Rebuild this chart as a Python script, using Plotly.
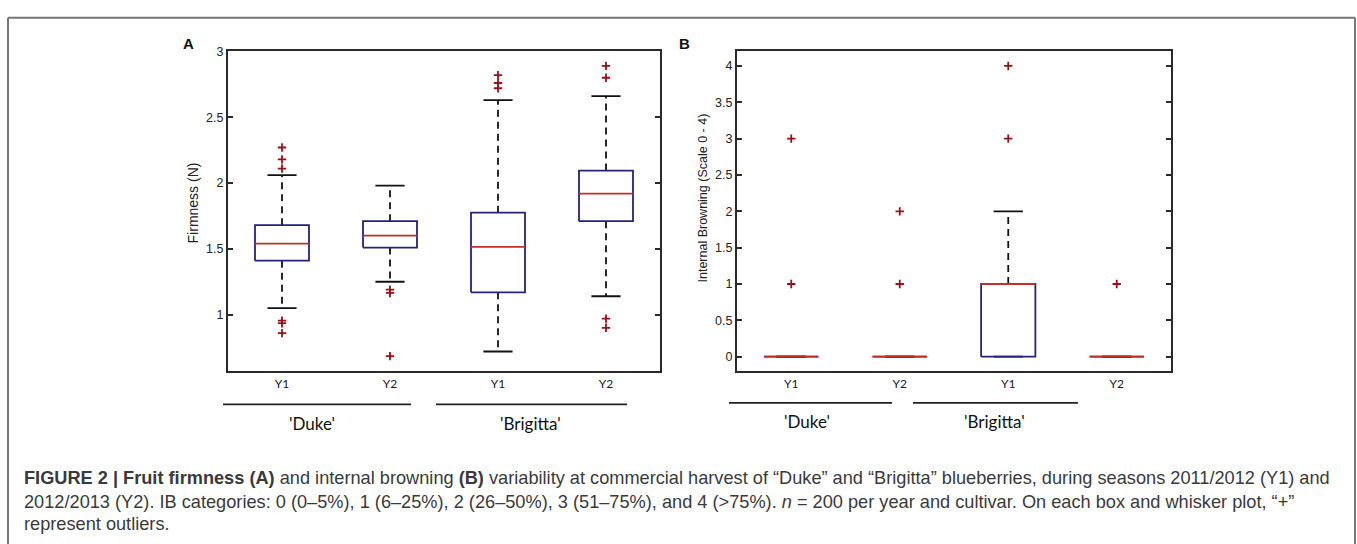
import plotly.graph_objects as go

# ---------------- data ----------------
categories = ["Y1", "Y2", "Y1", "Y2"]
cultivars = ["'Duke'", "'Brigitta'"]

# Panel A: Firmness (N)
firm_q1 = [1.41, 1.51, 1.17, 1.71]
firm_med = [1.54, 1.60, 1.515, 1.92]
firm_q3 = [1.68, 1.71, 1.775, 2.095]
firm_lo = [1.05, 1.25, 0.72, 1.14]
firm_hi = [2.06, 1.98, 2.63, 2.66]
firm_out = [
    [2.27, 2.18, 2.11, 0.955, 0.935, 0.86],
    [1.19, 1.165, 0.685],
    [2.82, 2.76, 2.72],
    [2.89, 2.80, 0.97, 0.90],
]

# Panel B: Internal browning (scale 0-4)
ib_q1 = [0, 0, 0, 0]
ib_med = [0, 0, 1, 0]
ib_q3 = [0, 0, 1, 0]
ib_lo = [0, 0, 0, 0]
ib_hi = [0, 0, 2, 0]
ib_out = [[1, 3], [1, 2], [3, 4], [1]]

# ---------------- style ----------------
BOX_COLOR = "#23237a"
MED_COLOR = "#c0302c"
OUT_COLOR = "#9a1016"
AX_COLOR = "#2a2a2a"
W = 1357
H = 544

fig = go.Figure()


def add_boxes(q1, med, q3, lo, hi, outs, xa, ya):
    for i in range(len(q1)):
        xc = i + 1
        hw = 0.25
        cw = 0.135
        # whiskers (dashed)
        fig.add_trace(go.Scatter(x=[xc, xc, None, xc, xc], y=[q3[i], hi[i], None, q1[i], lo[i]],
                                 mode="lines", line=dict(color="#111111", width=1.8, dash="7px,5px"),
                                 xaxis=xa, yaxis=ya, hoverinfo="skip", showlegend=False))
        # caps
        fig.add_trace(go.Scatter(x=[xc - cw, xc + cw, None, xc - cw, xc + cw],
                                 y=[hi[i], hi[i], None, lo[i], lo[i]],
                                 mode="lines", line=dict(color="#111111", width=1.8),
                                 xaxis=xa, yaxis=ya, hoverinfo="skip", showlegend=False))
        # box
        fig.add_trace(go.Scatter(x=[xc - hw, xc + hw, xc + hw, xc - hw, xc - hw],
                                 y=[q1[i], q1[i], q3[i], q3[i], q1[i]],
                                 mode="lines", line=dict(color=BOX_COLOR, width=1.8),
                                 xaxis=xa, yaxis=ya, hoverinfo="skip", showlegend=False))
        # median
        fig.add_trace(go.Scatter(x=[xc - hw, xc + hw], y=[med[i], med[i]],
                                 mode="lines", line=dict(color=MED_COLOR, width=1.8),
                                 xaxis=xa, yaxis=ya, hoverinfo="skip", showlegend=False))
        # outliers
        if outs[i]:
            fig.add_trace(go.Scatter(x=[xc] * len(outs[i]), y=outs[i], mode="markers",
                                     marker=dict(symbol="cross-thin", size=6,
                                                 line=dict(color=OUT_COLOR, width=1.8)),
                                     xaxis=xa, yaxis=ya, hoverinfo="skip", showlegend=False))


add_boxes(firm_q1, firm_med, firm_q3, firm_lo, firm_hi, firm_out, "x", "y")
add_boxes(ib_q1, ib_med, ib_q3, ib_lo, ib_hi, ib_out, "x2", "y2")

ydom = [1 - 369 / H, 1 - 45 / H]
xdomA = [228 / W, 660 / W]
xdomB = [737 / W, 1171 / W]

common_x = dict(range=[0.5, 4.5], tickvals=[1, 2, 3, 4], ticktext=categories,
                showline=True, mirror=True, linecolor=AX_COLOR, linewidth=2,
                ticks="", showgrid=False, zeroline=False,
                tickfont=dict(family="Lato", size=12, color="#1a1a1a"))
common_y = dict(showline=True, mirror="ticks", linecolor=AX_COLOR, linewidth=2,
                ticks="inside", ticklen=5, tickwidth=1.5, tickcolor=AX_COLOR,
                showgrid=False, zeroline=False,
                tickfont=dict(family="Liberation Sans", size=12.5, color="#222222"))

fig.update_layout(
    width=W, height=H,
    margin=dict(l=0, r=0, t=0, b=0),
    paper_bgcolor="white", plot_bgcolor="white",
    xaxis=dict(domain=xdomA, anchor="y", **common_x),
    yaxis=dict(domain=ydom, anchor="x", range=[0.57, 3.0], tickvals=[1, 1.5, 2, 2.5, 3],
               ticktext=["1", "1.5", "2", "2.5", "3"], **common_y),
    xaxis2=dict(domain=xdomB, anchor="y2", **common_x),
    yaxis2=dict(domain=ydom, anchor="x2", range=[-0.2, 4.2],
                tickvals=[0, 0.5, 1, 1.5, 2, 2.5, 3, 3.5, 4],
                ticktext=["0", "0.5", "1", "1.5", "2", "2.5", "3", "3.5", "4"], **common_y),
)

annotations = []
shapes = []


def px(x):
    return x / W


def py(y):
    return 1 - y / H


def ann(x, y, text, size, family="Liberation Sans", color="#111", angle=0, xanchor="center"):
    annotations.append(dict(x=px(x), y=py(y), xref="paper", yref="paper", text=text,
                            xanchor=xanchor, yanchor="middle", textangle=angle, showarrow=False,
                            font=dict(family=family, size=size, color=color)))


# panel letters
ann(188, 37, "<b>A</b>", 15)
ann(684, 37, "<b>B</b>", 15)

# y titles
ann(193, 199, "Firmness (N)", 14, color="#222", angle=-90)
ann(703, 194, "Internal Browning (Scale 0 - 4)", 12.5, color="#222", angle=-90)

# cultivar group lines and labels
groups = [
    (223, 411, 312, cultivars[0]), (436, 627, 530, cultivars[1]),
    (729, 892, 807, cultivars[0]), (913, 1078, 995, cultivars[1]),
]
for x0, x1, xc, lab in groups:
    ly = 402.5 if x0 < 700 else 401
    shapes.append(dict(type="line", xref="paper", yref="paper", x0=px(x0), x1=px(x1),
                       y0=py(ly), y1=py(ly), line=dict(color="#222", width=1.8)))
    ann(xc, ly + 19, lab, 17, family="Lato")

# figure frame
for x0, y0, x1, y1 in [(8, 544, 8, 11), (8, 11, 1355, 11), (1355, 11, 1355, 544)]:
    shapes.append(dict(type="line", xref="paper", yref="paper", x0=px(x0), x1=px(x1),
                       y0=py(y0), y1=py(y1), line=dict(color="#777", width=2)))

# caption
cap_lines = [
    "<b>FIGURE 2 | Fruit firmness (A)</b> and internal browning <b>(B)</b> variability at commercial harvest of \u201cDuke\u201d and \u201cBrigitta\u201d blueberries, during seasons 2011/2012 (Y1) and",
    "2012/2013 (Y2). IB categories: 0 (0\u20135%), 1 (6\u201325%), 2 (26\u201350%), 3 (51\u201375%), and 4 (&gt;75%). <i>n</i> = 200 per year and cultivar. On each box and whisker plot, \u201c+\u201d",
    "represent outliers.",
]
cap_y = [477, 501, 524]
for t, yy in zip(cap_lines, cap_y):
    ann(22, yy, t, 18.2, color="#3a3a3a", xanchor="left")

fig.update_layout(annotations=annotations, shapes=shapes)
fig.write_html("out.html", config={"displayModeBar": False},
               post_script="document.body.style.margin='0px';document.body.style.overflow='hidden';")
